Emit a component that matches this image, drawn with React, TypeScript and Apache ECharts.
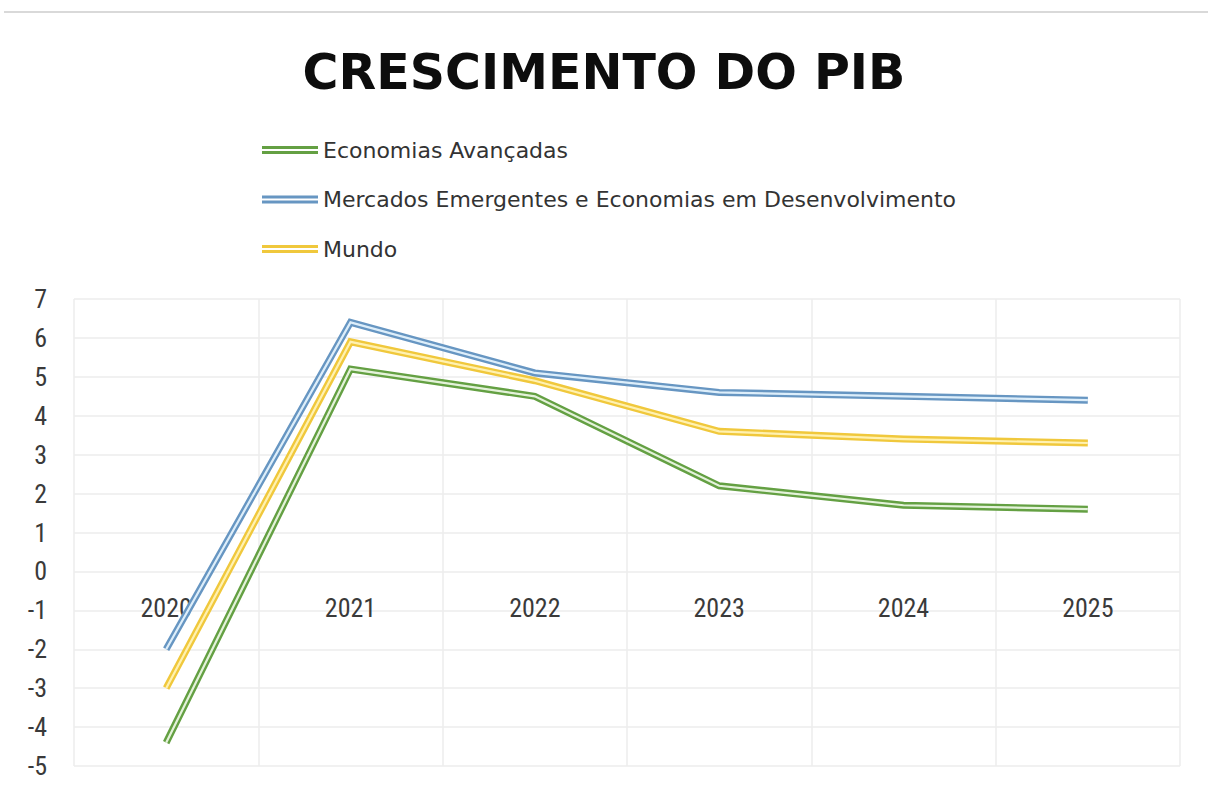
import React, { useEffect, useRef } from "react";
import * as echarts from "echarts";

const categories = ["2020", "2021", "2022", "2023", "2024", "2025"];
const seriesNames = [
  "Economias Avançadas",
  "Mercados Emergentes e Economias em Desenvolvimento",
  "Mundo",
];
const avancadas = [-4.4, 5.2, 4.5, 2.2, 1.7, 1.6];
const emergentes = [-2.0, 6.4, 5.1, 4.6, 4.5, 4.4];
const mundo = [-3.0, 5.9, 4.9, 3.6, 3.4, 3.3];
const yTicks = { min: -5, max: 7, interval: 1 };

const outerColors = ["#64A043", "#6796C2", "#F0C83C"];
const innerColors = ["#E4F2DA", "#DDEEFA", "#FFF1B0"];

const axisFont = "'Liberation Sans Narrow', 'Roboto Condensed', 'DejaVu Sans Condensed', Roboto, sans-serif";

export default function App() {
  const ref = useRef<HTMLDivElement>(null);
  useEffect(() => {
    if (!ref.current) return;
    const chart = echarts.init(ref.current, null, { renderer: "svg" });
    const datasets = [avancadas, emergentes, mundo];
    const series: any[] = [];
    datasets.forEach((d, i) => {
      series.push({
        name: seriesNames[i],
        type: "line",
        data: d,
        symbol: "none",
        z: 2 + i * 2,
        lineStyle: { color: outerColors[i], width: 7, cap: "butt", join: "miter" },
        itemStyle: { color: outerColors[i] },
      });
      series.push({
        name: seriesNames[i] + "_inner",
        type: "line",
        data: d,
        symbol: "none",
        z: 3 + i * 2,
        lineStyle: { color: innerColors[i], width: 2.2, cap: "butt", join: "miter" },
        itemStyle: { color: innerColors[i] },
      });
    });
    chart.setOption({
      animation: false,
      backgroundColor: "#ffffff",
      title: {
        text: "CRESCIMENTO DO PIB",
        left: "center",
        top: 48,
        padding: 0,
        textStyle: {
          fontFamily: "'DejaVu Sans'",
          fontWeight: "bold",
          fontSize: 49,
          color: "#0d0d0d",
        },
      },
      legend: {
        data: seriesNames,
        orient: "vertical",
        left: 262,
        top: 139,
        padding: 0,
        itemWidth: 56,
        itemHeight: 8,
        itemGap: 27.5,
        icon: "path://M0,0H56V3H0Z M0,5H56V8H0Z",
        textStyle: { fontFamily: "'DejaVu Sans'", fontSize: 22, color: "#333333" },
      },
      graphic: [
        {
          type: "line",
          shape: { x1: 4, y1: 12, x2: 1208, y2: 12 },
          style: { stroke: "#d9d9d9", lineWidth: 2 },
        },
      ],
      grid: { left: 74, right: 28, top: 299, bottom: 23, containLabel: false, outerBoundsMode: "none" },
      xAxis: {
        type: "category",
        data: categories,
        boundaryGap: true,
        offset: -194.6,
        axisLine: { show: false, onZero: false },
        axisTick: { show: false },
        axisLabel: { margin: 24, fontFamily: axisFont, fontSize: 26, color: "#3a3a3a" },
        splitLine: { show: true, lineStyle: { color: "#ececec", width: 1.5 } },
      },
      yAxis: {
        type: "value",
        min: yTicks.min,
        max: yTicks.max,
        interval: yTicks.interval,
        axisLine: { show: false },
        axisTick: { show: false },
        axisLabel: { margin: 27, fontFamily: axisFont, fontSize: 26, color: "#3a3a3a" },
        splitLine: { show: true, lineStyle: { color: "#ececec", width: 1.5 } },
      },
      series,
    });
    return () => chart.dispose();
  }, []);
  return (
    <div
      ref={ref}
      style={{ position: "fixed", left: 0, top: 0, width: 1208, height: 789 }}
    />
  );
}
